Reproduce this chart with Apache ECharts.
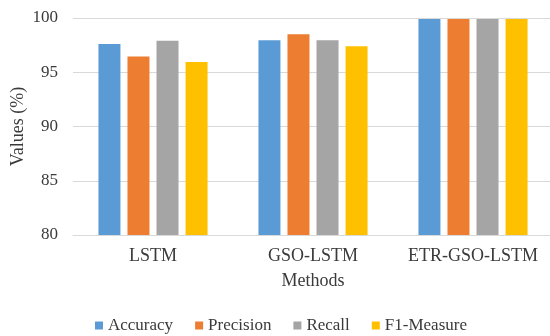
<!DOCTYPE html>
<html>
<head>
<meta charset="utf-8">
<script src="https://cdn.jsdelivr.net/npm/echarts@6/dist/echarts.min.js"></script>
<style>
  html, body { margin: 0; padding: 0; background: #fff; }
  #chart { width: 550px; height: 336px; }
</style>
</head>
<body>
<div id="chart"></div>
<script>
// Methods compared on the x axis
const methods = ['LSTM', 'GSO-LSTM', 'ETR-GSO-LSTM'];

// Metric values (%) per method
const accuracy  = [97.6, 97.95, 99.9];
const precision = [96.45, 98.5, 99.9];
const recall    = [97.9, 97.95, 99.9];
const f1Measure = [95.95, 97.4, 99.9];

const seriesNames = ['Accuracy', 'Precision', 'Recall', 'F1-Measure'];
const seriesData = [accuracy, precision, recall, f1Measure];
const colors = ['#5B9BD5', '#ED7D31', '#A5A5A5', '#FFC000'];

// Y axis range and step
const yMin = 80, yMax = 100, yStep = 5;

const fontFamily = '"Liberation Serif", "Times New Roman", serif';
const textColor = '#3A3A3A';

const chart = echarts.init(document.getElementById('chart'), null, { renderer: 'canvas' });

chart.setOption({
  animation: false,
  backgroundColor: '#ffffff',
  color: colors,
  textStyle: { fontFamily: fontFamily },
  grid: {
    left: 73, top: 18, width: 480, height: 217,
    containLabel: false,
    outerBoundsMode: 'none'
  },
  legend: {
    top: 317,
    left: 95,
    padding: 0,
    icon: 'rect',
    itemWidth: 8,
    itemHeight: 8,
    itemGap: 22,
    textStyle: { fontFamily: fontFamily, fontSize: 17, color: textColor },
    data: seriesNames
  },
  xAxis: {
    type: 'category',
    data: methods,
    name: 'Methods',
    nameLocation: 'middle',
    nameGap: 37,
    nameMoveOverlap: false,
    nameTextStyle: { fontFamily: fontFamily, fontSize: 18, color: textColor },
    axisLine: { lineStyle: { color: '#D9D9D9', width: 1 } },
    axisTick: { show: false },
    axisLabel: { interval: 0, fontFamily: fontFamily, fontSize: 18, color: textColor, margin: 12 }
  },
  yAxis: {
    type: 'value',
    min: yMin,
    max: yMax,
    interval: yStep,
    name: 'Values (%)',
    nameLocation: 'middle',
    nameGap: 46,
    nameMoveOverlap: false,
    nameRotate: 90,
    nameTextStyle: { fontFamily: fontFamily, fontSize: 18, color: textColor },
    axisLine: { show: false },
    axisTick: { show: false },
    axisLabel: { fontFamily: fontFamily, fontSize: 17, color: textColor, margin: 15 },
    splitLine: { lineStyle: { color: '#D9D9D9', width: 1 } }
  },
  series: seriesNames.map((name, i) => ({
    name: name,
    type: 'bar',
    data: seriesData[i],
    barWidth: 22,
    barGap: '32%',
    barCategoryGap: '32%',
    itemStyle: { color: colors[i] }
  }))
});
</script>
</body>
</html>
